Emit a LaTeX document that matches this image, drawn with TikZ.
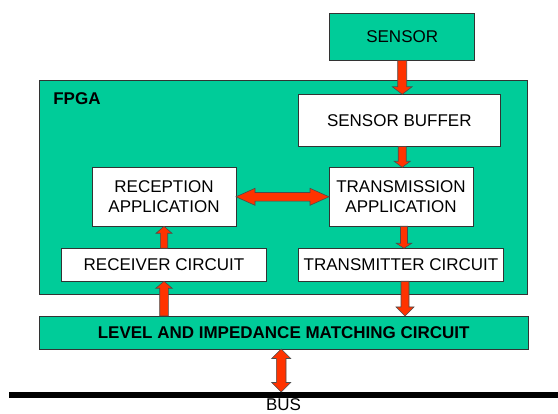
\documentclass[tikz,border=0pt]{standalone}
\usepackage{fontspec}
\setmainfont{Liberation Sans}
\usetikzlibrary{calc}
\definecolor{fpgagreen}{RGB}{0,204,153}
\definecolor{arrowred}{RGB}{255,51,0}
\newcommand{\fatarrow}[5]{%
\filldraw[fatarrow] ($(#1)!#3!90:(#2)$) -- ($(#2)!#5!(#1)!#3!-90:(#1)$) -- ($(#2)!#5!(#1)!#4!-90:(#1)$) -- (#2)
  -- ($(#2)!#5!(#1)!#4!90:(#1)$) -- ($(#2)!#5!(#1)!#3!90:(#1)$) -- ($(#1)!#3!-90:(#2)$) -- cycle;}
\newcommand{\fatduoarrow}[5]{%
\filldraw[fatarrow] (#1) -- ($(#1)!#5!(#2)!#4!90:(#2)$) -- ($(#1)!#5!(#2)!#3!90:(#2)$) -- ($(#2)!#5!(#1)!#3!-90:(#1)$)
  -- ($(#2)!#5!(#1)!#4!-90:(#1)$) -- (#2) -- ($(#2)!#5!(#1)!#4!90:(#1)$) -- ($(#2)!#5!(#1)!#3!90:(#1)$)
  -- ($(#1)!#5!(#2)!#3!-90:(#2)$) -- ($(#1)!#5!(#2)!#4!-90:(#2)$) -- cycle;}
\begin{document}
\begin{tikzpicture}[x=1pt,y=-1pt,inner sep=0pt,outer sep=0pt,font=\fontsize{17}{20.4}\selectfont,
whitebox/.style={draw=black!80,fill=white,line width=0.8pt,align=center},
greenbox/.style={draw=black!80,fill=fpgagreen,line width=0.8pt,align=center},
fatarrow/.style={draw=black!70,fill=arrowred,line width=0.6pt,line join=miter}]
\useasboundingbox (0,0) rectangle (558,414);
\draw (402.2,37) node[greenbox,minimum width=145pt,minimum height=47.4pt] (sensor) {SENSOR};
\draw (283.7,187.2) node[greenbox,minimum width=488pt,minimum height=213.7pt] (fpga) {};
\draw (fpga.north west) ++(13.6,23.7) node[anchor=base west,font=\fontsize{17}{20.4}\selectfont\bfseries] (fpgalabel) {FPGA};
\draw (399.3,120.5) node[whitebox,minimum width=202.7pt,minimum height=52.4pt] (sbuf) {SENSOR BUFFER};
\draw (164,196.8) node[whitebox,minimum width=144pt,minimum height=59pt] (rapp) {RECEPTION\\APPLICATION};
\draw (401,196.8) node[whitebox,minimum width=144pt,minimum height=59pt] (tapp) {TRANSMISSION\\APPLICATION};
\draw (164,264.8) node[whitebox,minimum width=205.4pt,minimum height=33pt] (rcirc) {RECEIVER CIRCUIT};
\draw (401,264.8) node[whitebox,minimum width=204.6pt,minimum height=33pt] (tcirc) {TRANSMITTER CIRCUIT};
\draw (283.7,332.5) node[greenbox,minimum width=489.3pt,minimum height=33pt,font=\fontsize{17}{20.4}\selectfont\bfseries] (level) {LEVEL AND IMPEDANCE MATCHING CIRCUIT};
\coordinate (busW) at (9,395);
\coordinate (busE) at (558,395);
\coordinate (bustop) at ([yshift=3pt]busW);
\draw[line width=6pt] (busW) -- (busE);
\draw (283.5,410.5) node[anchor=base] (bus) {BUS};
\coordinate (a1) at (sensor.south |- sbuf.north);
\coordinate (a2) at (sensor.south |- sbuf.south);
\coordinate (a3) at (sensor.south |- tapp.north);
\coordinate (b1) at ([xshift=3pt]tapp.south);
\coordinate (b2) at (b1 |- tcirc.north);
\coordinate (b3) at ([xshift=4pt]tcirc.south);
\coordinate (b4) at (b3 |- level.north);
\coordinate (c1) at (rcirc.south |- level.north);
\coordinate (d1) at ([xshift=-2.5pt]level.south);
\coordinate (d2) at (d1 |- bustop);
\fatarrow{sensor.south}{a1}{4.5pt}{9.8pt}{7.5pt}
\fatarrow{a2}{a3}{4pt}{8pt}{6pt}
\fatduoarrow{rapp.east}{tapp.west}{4.3pt}{8.5pt}{19pt}
\fatarrow{b1}{b2}{3.5pt}{7.7pt}{5pt}
\fatarrow{b3}{b4}{4pt}{9pt}{9pt}
\fatarrow{rcirc.north}{rapp.south}{3.7pt}{8pt}{7pt}
\fatarrow{c1}{rcirc.south}{4.3pt}{8.3pt}{7pt}
\fatduoarrow{d1}{d2}{4.8pt}{9.5pt}{9.5pt}
\end{tikzpicture}
\end{document}
